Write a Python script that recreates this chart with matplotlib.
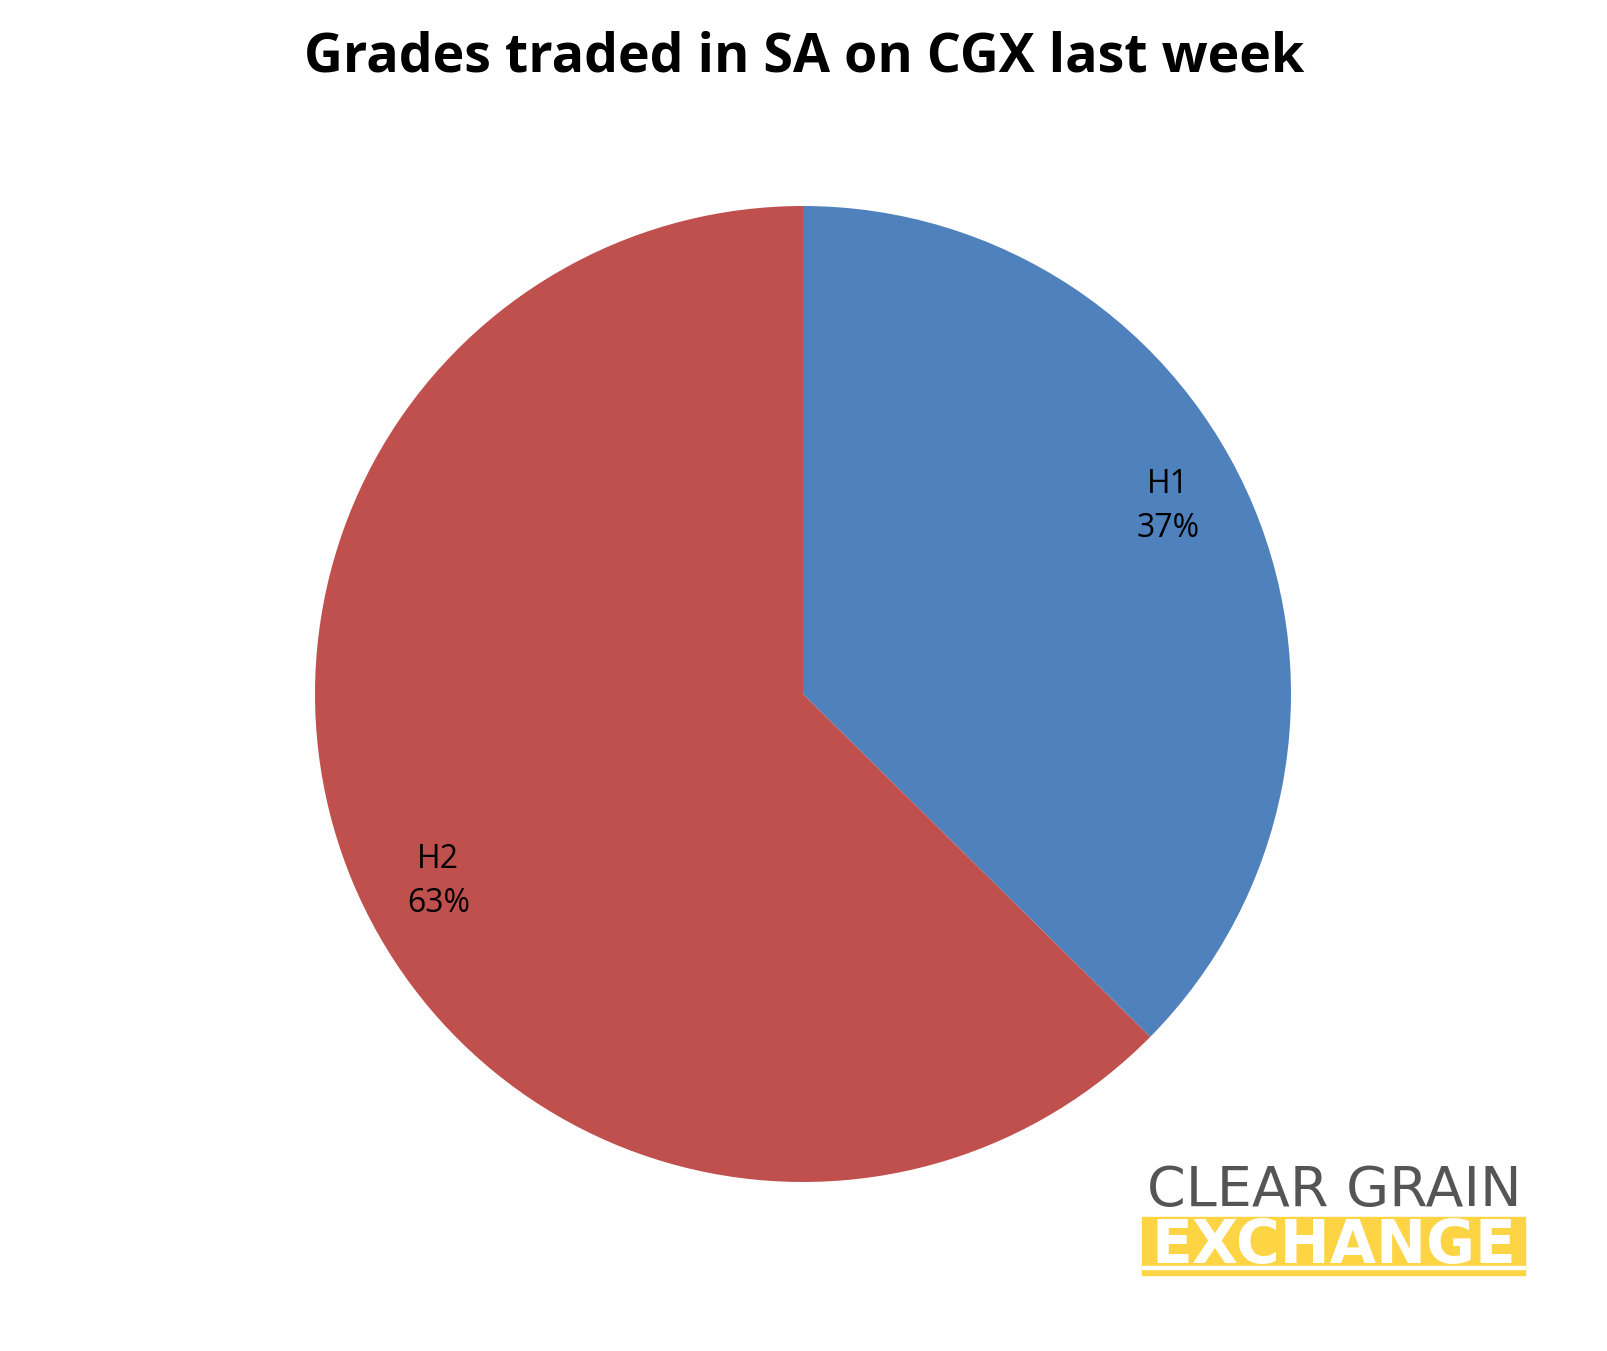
import numpy as np
import matplotlib.pyplot as plt
from matplotlib.patches import Rectangle

grades = ['H1', 'H2']
shares = [37.4, 62.6]
colors = ['#4F81BD', '#C0504D']

W, H = 1608, 1351
fig = plt.figure(figsize=(W / 100, H / 100), dpi=100)

def fx(x):
    return x / W

def fy(y):
    return 1 - y / H

# pie placed so that the centre is at (803, 694) px, radius 488 px
cx, cy, r = 803, 694, 488
ax = fig.add_axes([fx(cx - r), fy(cy + r), 2 * r / W, 2 * r / H])
wedges, _ = ax.pie(shares, colors=colors, startangle=90, counterclock=False)
ax.set_xlim(-1, 1)
ax.set_ylim(-1, 1)
ax.set_aspect('equal')
ax.axis('off')

# data labels, a little past the middle of each slice like the original
for w, g, s in zip(wedges, grades, shares):
    ang = np.deg2rad((w.theta1 + w.theta2) / 2 + 4.5)
    ax.text(0.84 * np.cos(ang), 0.84 * np.sin(ang), f'{g}\n{round(s):.0f}%',
            ha='center', va='center', fontsize=23, family='Open Sans',
            linespacing=1.45)

fig.text(0.5, fy(57), 'Grades traded in SA on CGX last week', ha='center', va='center',
         fontsize=38.7, fontweight='bold', family='Open Sans')

# logo
fig.text(fx(1334), fy(1191), 'CLEAR GRAIN', ha='center', va='center',
         fontsize=40, family='DejaVu Sans', color='#555555')
fig.patches.append(Rectangle((fx(1142), fy(1275)), fx(383), (1275 - 1217) / H,
                             transform=fig.transFigure, color='#FCD444', zorder=1))
fig.text(fx(1334), fy(1247), 'EXCHANGE', ha='center', va='center',
         fontsize=43, fontweight='bold', family='DejaVu Sans', color='white', zorder=2)
fig.patches.append(Rectangle((fx(1142), fy(1269)), fx(383), 3 / H,
                             transform=fig.transFigure, color='white', zorder=3))

fig.savefig('out.png', dpi=100)
